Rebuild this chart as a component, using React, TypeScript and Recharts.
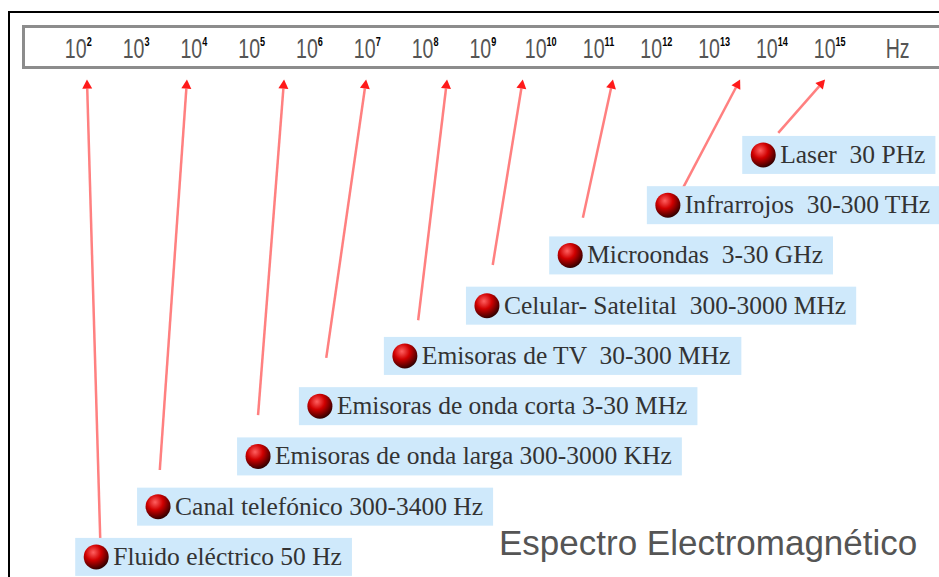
import React from 'react';
import { ScatterChart, Scatter, XAxis, YAxis, ReferenceLine } from 'recharts';

// ---- data ----
const exponents = [2, 3, 4, 5, 6, 7, 8, 9, 10, 11, 12, 13, 14, 15];
const labels = [
  'Fluido eléctrico 50 Hz',
  'Canal telefónico 300-3400 Hz',
  'Emisoras de onda larga 300-3000 KHz',
  'Emisoras de onda corta 3-30 MHz',
  'Emisoras de TV  30-300 MHz',
  'Celular- Satelital  300-3000 MHz',
  'Microondas  3-30 GHz',
  'Infrarrojos  30-300 THz',
  'Laser  30 PHz',
];
const rows = [0, 1, 2, 3, 4, 5, 6, 7, 8];
const labelExp = [2.31, 3.38, 5.11, 6.18, 7.65, 9.07, 10.51, 12.2, 13.85];
const arrowExp = [2.15, 3.88, 5.56, 6.98, 8.38, 9.69, 11.25, 13.45, 14.92];
const lineStartExp = [2.38, 3.41, 5.11, 6.29, 7.88, 9.17, 10.73, 12.46, 14.11];
const lineStartRow = [0.34, 1.73, 2.82, 3.96, 4.71, 5.81, 6.75, 7.34, 8.44];
const arrowRow = 9.5;
const title = 'Espectro Electromagnético';
const unit = 'Hz';

const points = labels.map((label, i) => ({ id: i, x: labelExp[i], y: rows[i], label }));

const LABEL_FONT = "25.5px 'Liberation Serif'";
const widthCache: Record<string, number> = {};
function measure(t: string): number {
  if (widthCache[t] !== undefined) return widthCache[t];
  let w = t.length * 10.5;
  try {
    const c = document.createElement('canvas');
    const ctx = c.getContext('2d');
    if (ctx) {
      ctx.font = LABEL_FONT;
      w = ctx.measureText(t).width;
    }
  } catch (e) {}
  widthCache[t] = w;
  return w;
}

const LabelShape = (props: any) => {
  const { cx, cy, payload } = props;
  if (cx == null || cy == null) return null;
  const w = measure(payload.label);
  const left = cx - 21;
  const textX = cx + 17;
  const right = textX + w + 10;
  const gid = `ball-${payload.id}`;
  return (
    <g>
      <rect x={left} y={cy - 19} width={right - left} height={38} fill="#cfe9fb" />
      <defs>
        <radialGradient id={gid} cx="38%" cy="32%" r="70%">
          <stop offset="0%" stopColor="#ff6060" />
          <stop offset="45%" stopColor="#d00000" />
          <stop offset="100%" stopColor="#300000" />
        </radialGradient>
      </defs>
      <circle cx={cx} cy={cy} r={12.5} fill={`url(#${gid})`} />
      <text
        x={textX}
        y={cy + 8}
        fontFamily="'Liberation Serif', serif"
        fontSize={25.5}
        fill="#333"
        style={{ whiteSpace: 'pre' }}
      >
        {payload.label}
      </text>
    </g>
  );
};

const ArrowShape = (props: any) => {
  const { x1, y1, x2, y2 } = props;
  if ([x1, y1, x2, y2].some((v) => v == null || isNaN(v))) return null;
  const dx = x2 - x1;
  const dy = y2 - y1;
  const len = Math.sqrt(dx * dx + dy * dy) || 1;
  const ux = dx / len;
  const uy = dy / len;
  const hl = 9;
  const hw = 5;
  const bx = x2 - ux * hl;
  const by = y2 - uy * hl;
  const px = -uy;
  const py = ux;
  return (
    <g>
      <line x1={x1} y1={y1} x2={bx} y2={by} stroke="#ff8080" strokeWidth={2.5} />
      <polygon
        points={`${x2},${y2} ${bx + px * hw},${by + py * hw} ${bx - px * hw},${by - py * hw}`}
        fill="#ff1a1a"
      />
    </g>
  );
};

const Tick = (props: any) => {
  const { x, y, payload } = props;
  const isLast = payload.value === exponents[exponents.length - 1];
  return (
    <g transform={`translate(${x},${y})`}>
      <g transform="scale(0.7,1)">
        <text
          x={0}
          y={-1}
          textAnchor="middle"
          fontFamily="'Liberation Sans', Arial, sans-serif"
          fontSize={28}
          fill="#555"
        >
          10
          <tspan dy={-12} fontSize={13} fontWeight="bold" fill="#000">
            {payload.value}
          </tspan>
        </text>
        {isLast ? (
          <text
            x={80}
            y={-1}
            fontFamily="'Liberation Sans', Arial, sans-serif"
            fontSize={28}
            fill="#555"
          >
            {unit}
          </text>
        ) : null}
      </g>
    </g>
  );
};

export default function App() {
  return (
    <div
      style={{
        position: 'absolute',
        left: 0,
        top: 0,
        width: 939,
        height: 577,
        overflow: 'hidden',
        background: '#fff',
      }}
    >
      <div
        style={{
          position: 'absolute',
          left: 8,
          top: 11,
          width: 1000,
          height: 700,
          borderTop: '2px solid #000',
          borderLeft: '2px solid #000',
        }}
      />
      <div
        style={{
          position: 'absolute',
          left: 22,
          top: 25,
          width: 1000,
          height: 38,
          border: '3px solid #8c8c8c',
          boxSizing: 'content-box',
        }}
      />
      <div style={{ position: 'absolute', left: 0, top: 0 }}>
        <ScatterChart width={939} height={577} margin={{ top: 26, right: 51.5, bottom: 0, left: 20.5 }}>
          <XAxis
            type="number"
            dataKey="x"
            orientation="top"
            domain={[1, 16]}
            ticks={exponents}
            interval={0}
            height={41}
            axisLine={false}
            tickLine={false}
            tick={<Tick />}
          />
          <YAxis type="number" dataKey="y" domain={[-0.4, 9.75]} hide />
          {labels.map((l, i) => (
            <ReferenceLine
              key={l}
              segment={[
                { x: lineStartExp[i], y: lineStartRow[i] },
                { x: arrowExp[i], y: arrowRow },
              ]}
              ifOverflow="visible"
              shape={(p: any) => <ArrowShape {...p} />}
            />
          ))}
          <Scatter data={points} isAnimationActive={false} shape={(p: any) => <LabelShape {...p} />} />
        </ScatterChart>
      </div>
      <div
        style={{
          position: 'absolute',
          left: 499,
          top: 523,
          fontFamily: "'Liberation Sans', Arial, sans-serif",
          fontSize: 35,
          color: '#555',
          lineHeight: '40px',
          whiteSpace: 'nowrap',
        }}
      >
        {title}
      </div>
    </div>
  );
}
